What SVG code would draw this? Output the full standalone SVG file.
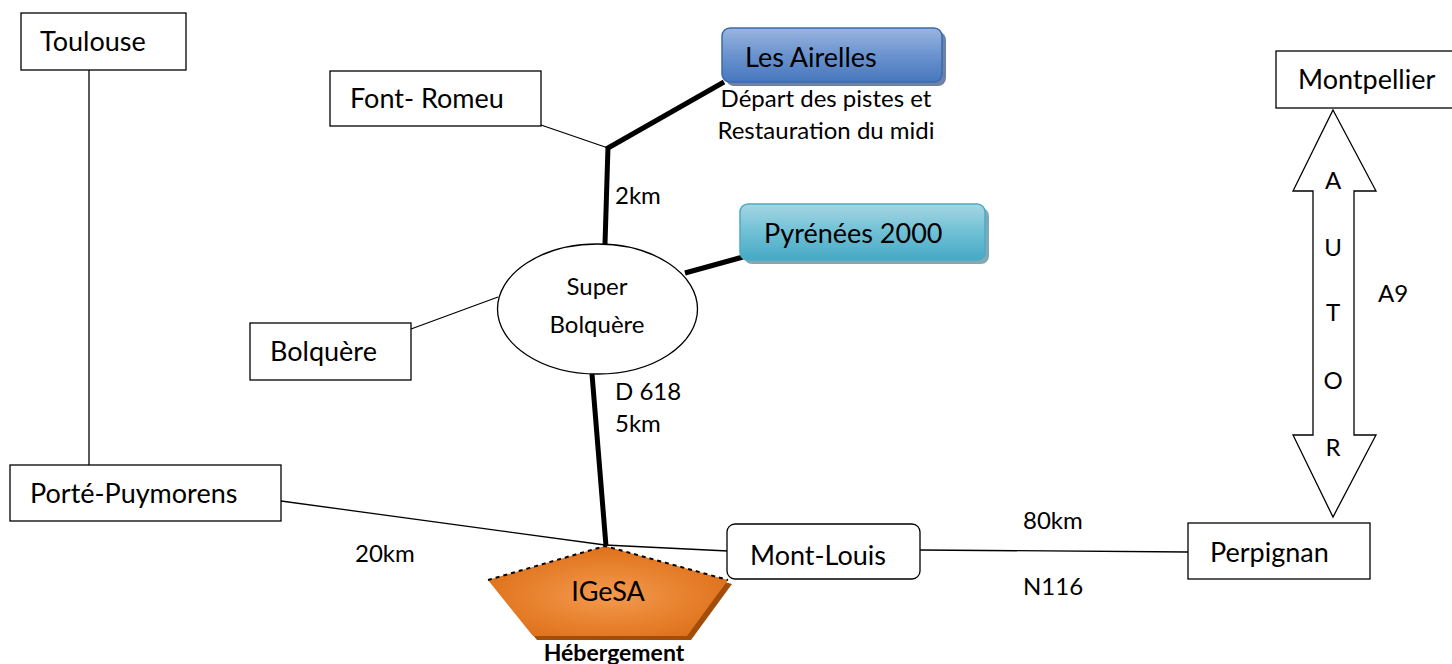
<svg xmlns="http://www.w3.org/2000/svg" width="1452" height="664" viewBox="0 0 1452 664">
<defs>
<linearGradient id="gBlue" x1="0" y1="0" x2="0" y2="1">
<stop offset="0" stop-color="#9ab5de"/><stop offset="0.5" stop-color="#6b93cf"/><stop offset="1" stop-color="#4677bd"/>
</linearGradient>
<linearGradient id="gTeal" x1="0" y1="0" x2="0" y2="1">
<stop offset="0" stop-color="#a6d6e4"/><stop offset="0.5" stop-color="#6fc0d5"/><stop offset="1" stop-color="#45a9c4"/>
</linearGradient>
<radialGradient id="gOrange" cx="0.5" cy="0.55" r="0.6">
<stop offset="0" stop-color="#f39a4e"/><stop offset="1" stop-color="#dd6d15"/>
</radialGradient>
<style>
text{font-family:Lato,"Open Sans","Liberation Sans",sans-serif;fill:#000}
.lbl{font-size:27px}
.sm{font-size:24px}
.box{fill:#fff;stroke:#000;stroke-width:1.3}
.thin{stroke:#000;stroke-width:1.3;fill:none}
.thick{stroke:#000;stroke-width:5;fill:none}
</style>
</defs>

<g id="connectors">
<line class="thin" x1="89" y1="70" x2="89" y2="465"/>
<line class="thin" x1="541" y1="125" x2="608" y2="148"/>
<line class="thick" x1="608" y1="148" x2="724" y2="82"/>
<line class="thick" x1="608" y1="146" x2="605" y2="244"/>
<line class="thick" x1="685" y1="273" x2="743" y2="257"/>
<line class="thin" x1="411" y1="329" x2="498" y2="297"/>
<line class="thick" x1="592" y1="374" x2="606" y2="546"/>
<polyline class="thin" points="281,501 605,545 728,551"/>
<line class="thin" x1="920" y1="550" x2="1188" y2="552"/>
</g>

<g id="toulouse"><rect class="box" x="21" y="13" width="165" height="57"/><text class="lbl" x="40" y="51">Toulouse</text></g>
<g id="porte"><rect class="box" x="10" y="465" width="271" height="56"/><text class="lbl" x="30" y="503">Porté-Puymorens</text></g>
<g id="fontromeu"><rect class="box" x="330" y="71" width="211" height="55"/><text class="lbl" x="350" y="108">Font- Romeu</text></g>

<g id="airelles">
<rect x="726" y="32" width="220" height="54" rx="8" fill="#2e4f80" opacity="0.7"/>
<rect x="722" y="28" width="220" height="54" rx="8" fill="url(#gBlue)" stroke="#3c6aac" stroke-width="1.5"/>
<text class="lbl" x="745" y="67">Les Airelles</text>
<text class="sm" x="826" y="107" text-anchor="middle">Départ des pistes et</text>
<text class="sm" x="826" y="139" text-anchor="middle">Restauration du midi</text>
</g>

<g id="pyrenees">
<rect x="744" y="208" width="245" height="56" rx="8" fill="#2f6f80" opacity="0.6"/>
<rect x="740" y="204" width="245" height="56" rx="8" fill="url(#gTeal)" stroke="#4bacc6" stroke-width="1.5"/>
<text class="lbl" x="764" y="243">Pyrénées 2000</text>
</g>

<g id="superbolquere">
<ellipse cx="597.5" cy="309" rx="100" ry="65" fill="#fff" stroke="#000" stroke-width="1.3"/>
<text class="sm" x="597" y="295" text-anchor="middle">Super</text>
<text class="sm" x="597" y="333" text-anchor="middle">Bolquère</text>
</g>
<text class="sm" x="615" y="204">2km</text>
<text class="sm" x="615" y="400">D 618</text>
<text class="sm" x="615" y="432">5km</text>

<g id="bolquere"><rect class="box" x="250" y="323" width="161" height="57"/><text class="lbl" x="270" y="361">Bolquère</text></g>

<g id="igesa">
<polygon points="609,550 732,584 691,640 537,640 492,584" fill="#a04e0a"/>
<polygon points="605,546 728,580 687,636 533,636 488,580" fill="url(#gOrange)"/>
<polyline points="488,580 605,546 728,580" fill="none" stroke="#000" stroke-width="2" stroke-dasharray="4,4"/>
<text class="lbl" x="608" y="601" text-anchor="middle">IGeSA</text>
<text x="614" y="661" text-anchor="middle" style="font-size:23px;font-weight:bold">Hébergement</text>
</g>
<text class="sm" x="355" y="562">20km</text>

<g id="montlouis"><rect class="box" x="727" y="524" width="193" height="55" rx="8" stroke-width="2"/><text class="lbl" x="750" y="565">Mont-Louis</text></g>
<text class="sm" x="1023" y="529">80km</text>
<text class="sm" x="1023" y="595">N116</text>

<g id="perpignan"><rect class="box" x="1188" y="523" width="182" height="56"/><text class="lbl" x="1210" y="562">Perpignan</text></g>
<g id="montpellier"><rect class="box" x="1276" y="51" width="180" height="57"/><text class="lbl" x="1298" y="89">Montpellier</text></g>

<g id="autoroute">
<polygon points="1333,110 1376,191 1354,191 1354,435 1376,435 1333,517 1293,435 1313,435 1313,191 1293,191" fill="#fff" stroke="#000" stroke-width="1.3"/>
<text class="sm" x="1333" y="189" text-anchor="middle">A</text>
<text class="sm" x="1333" y="256" text-anchor="middle">U</text>
<text class="sm" x="1333" y="321" text-anchor="middle">T</text>
<text class="sm" x="1333" y="389" text-anchor="middle">O</text>
<text class="sm" x="1333" y="456" text-anchor="middle">R</text>
<text class="sm" x="1378" y="302">A9</text>
</g>
</svg>
